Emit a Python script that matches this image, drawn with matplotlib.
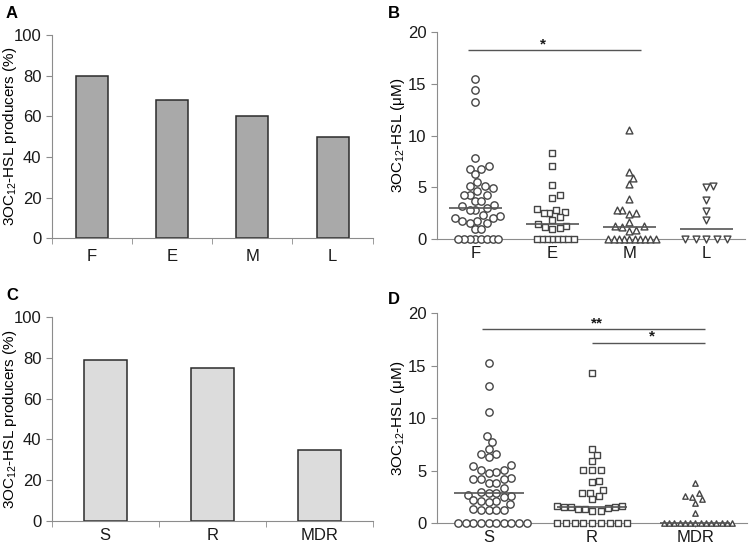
import numpy as np
import matplotlib.pyplot as plt

plt.rcParams['font.family'] = ['Liberation Sans', 'DejaVu Sans']
plt.rcParams['mathtext.fontset'] = 'custom'
plt.rcParams['mathtext.rm'] = 'Liberation Sans'
plt.rcParams['mathtext.it'] = 'Liberation Sans:italic'

# panel A / C: percentage of producers
stage_labels = ['F', 'E', 'M', 'L']
stage_pct = [80, 68, 60, 50]
res_labels = ['S', 'R', 'MDR']
res_pct = [79, 75, 35]

# panel B: 3OC12-HSL concentration (uM) per stage
F = [15.4, 14.4, 13.2, 7.8, 7.1, 6.8, 6.8, 6.3, 5.5, 5.1, 4.9, 5.1, 4.7, 4.3, 4.3, 4.3,
     3.7, 3.7, 3.3, 3.2, 3.0, 2.8, 2.8, 2.2, 2.1, 2.1, 2.3, 1.8, 1.6, 1.8, 1.6, 1.0, 1.0,
     0, 0, 0, 0, 0, 0, 0, 0]
E = [8.3, 7.1, 5.2, 4.3, 4.0, 2.9, 2.55, 2.55, 2.6, 2.8, 2.15, 1.9, 1.5, 1.25, 1.1, 1.0, 1.2,
     0, 0, 0, 0, 0, 0, 0, 0]
M = [10.5, 6.5, 5.9, 5.3, 3.85, 2.8, 2.4, 2.5, 2.8, 1.7, 1.3, 1.2, 1.3, 0.87, 0.8,
     0, 0, 0, 0, 0, 0, 0, 0, 0, 0]
L = [5.1, 5.05, 3.8, 2.7, 1.9, 0, 0, 0, 0, 0]

# panel D: per resistance class
S = [15.3, 13.1, 10.55, 8.3, 7.75, 7.05, 6.6, 6.6, 6.3, 5.5, 5.4, 5.1, 5.1, 4.9, 4.8,
     4.3, 4.2, 4.2, 4.2, 3.8, 3.8, 3.3, 2.95, 2.9, 2.9, 2.7, 2.6, 2.45, 2.2, 2.1, 2.1, 2.05,
     1.8, 1.3, 1.25, 1.2, 1.2, 1.2, 0, 0, 0, 0, 0, 0, 0, 0, 0, 0]
R = [14.3, 7.05, 6.5, 5.95, 5.1, 5.1, 5.1, 4.0, 3.95, 3.15, 2.9, 2.9, 2.55, 2.25,
     1.6, 1.55, 1.5, 1.55, 1.6, 1.35, 1.1, 1.1, 1.3, 1.4, 0, 0, 0, 0, 0, 0, 0, 0, 0]
MDR = [3.8, 2.9, 2.6, 2.25, 2.5, 1.9, 1.0, 0, 0, 0, 0, 0, 0, 0, 0, 0, 0, 0, 0, 0, 0]

# significance brackets: (x start, x end, y, label, label x)
sig_B = [(-0.1, 2.15, 18.2, '*', 0.88)]
sig_D = [(-0.06, 2.09, 18.5, '**', 1.05), (1.0, 2.09, 17.2, '*', 1.58)]

AX = '#8c8c8c'
EDGE = '#454545'

fig = plt.figure(figsize=(7.52, 5.47), dpi=100)
W, H = 752, 547


def add_ax(l, t, r, b):
    return fig.add_axes([l / W, 1 - b / H, (r - l) / W, (b - t) / H])


def style(ax):
    for s in ['top', 'right']:
        ax.spines[s].set_visible(False)
    for s in ['left', 'bottom']:
        ax.spines[s].set_color(AX)
    ax.tick_params(axis='both', colors=AX, labelcolor='#1a1a1a', labelsize=12, length=4)


def bar_panel(ax, labels, vals, color, pad):
    x = np.arange(len(labels))
    ax.bar(x, vals, width=0.4, color=color, edgecolor='#2b2b2b', linewidth=1.1, zorder=2)
    ax.set_xlim(-0.5, len(labels) - 0.5)
    ax.set_ylim(0, 100)
    ax.set_yticks(range(0, 101, 20))
    ax.set_xticks(x)
    ax.set_xticklabels(labels)
    ax.set_xticks(np.arange(len(labels) + 1) - 0.5, minor=True)
    ax.tick_params(axis='x', which='major', length=0, pad=pad)
    ax.tick_params(axis='x', which='minor', length=4, color=AX)
    ax.set_ylabel(r'3OC$_{12}$-HSL producers (%)', fontsize=11)
    ax.yaxis.set_label_coords(-0.103, 0.5)


def swarm(ax, vals, center, d, tight):
    # simple beeswarm in pixel space
    x0 = ax.transData.transform((0, 0))
    x1 = ax.transData.transform((1, 1))
    sx, sy = x1[0] - x0[0], x1[1] - x0[1]
    vals = np.asarray(vals, float)
    order = np.argsort(vals, kind='stable')
    placed = []
    xs = np.zeros(len(vals))
    for i in order:
        y = vals[i] * sy
        k = 0
        while True:
            off = 0 if k == 0 else ((k + 1) // 2) * (d / 4) * (1 if k % 2 else -1)
            ok = True
            for px, py in placed:
                dy = abs(py - y)
                if dy < 1e-6:
                    if abs(px - off) < tight:
                        ok = False
                        break
                elif np.hypot(px - off, dy) < d:
                    ok = False
                    break
            if ok:
                break
            k += 1
        placed.append((off, y))
        xs[i] = center + off / sx
    return xs


def dot_panel(ax, labels, groups, markers, sizes, tights, sig):
    n = len(labels)
    ax.set_xlim(-0.5, n - 0.5)
    ax.set_ylim(0, 20)
    ax.set_yticks(range(0, 21, 5))
    ax.set_xticks(np.arange(n))
    ax.set_xticklabels(labels)
    ax.tick_params(axis='x', length=3, pad=2)
    for c, (g, m, s, t) in enumerate(zip(groups, markers, sizes, tights)):
        d = 7.6 if m == 'o' else 7.0
        xs = swarm(ax, g, c, d, t)
        ax.scatter(xs, g, s=s, marker=m, facecolors='white', edgecolors=EDGE,
                   linewidths=1.0, clip_on=False, zorder=3)
        med = np.median(g)
        ax.hlines(med, c - 0.34, c + 0.34, color='#555555', lw=1.2, zorder=4, clip_on=False)
    for xa, xb, y, txt, tx in sig:
        ax.hlines(y, xa, xb, color='#555555', lw=1.0)
        ax.text(tx, y - 0.1, txt, ha='center', va='bottom', fontsize=11,
                fontweight='bold', color='#1a1a1a')
    ax.set_ylabel('3OC$_{12}$-HSL (μM)', fontsize=11)
    ax.yaxis.set_label_coords(-0.098, 0.5)


axA = add_ax(51.7, 35, 372.7, 238.3)
style(axA)
bar_panel(axA, stage_labels, stage_pct, '#a9a9a9', 8)

axC = add_ax(51.7, 317.3, 372.7, 520.7)
style(axC)
bar_panel(axC, res_labels, res_pct, '#dcdcdc', 5)

axB = add_ax(437, 31.7, 745, 239.3)
style(axB)
dot_panel(axB, stage_labels, [F, E, M, L], ['o', 's', '^', 'v'], [28, 22, 24, 24],
          [4.8, 5.0, 4.2, 9.3], sig_B)

axD = add_ax(437, 313.3, 747, 523)
style(axD)
dot_panel(axD, res_labels, [S, R, MDR], ['o', 's', '^'], [28, 22, 15],
          [7.0, 7.5, 4.4], sig_D)

for lab, x, y in [('A', 6, 13), ('B', 388, 13), ('C', 6, 296), ('D', 388, 299)]:
    fig.text(x / W, 1 - y / H, lab, fontsize=12, fontweight='bold', va='center', ha='left')

fig.savefig('out.png', dpi=100)
